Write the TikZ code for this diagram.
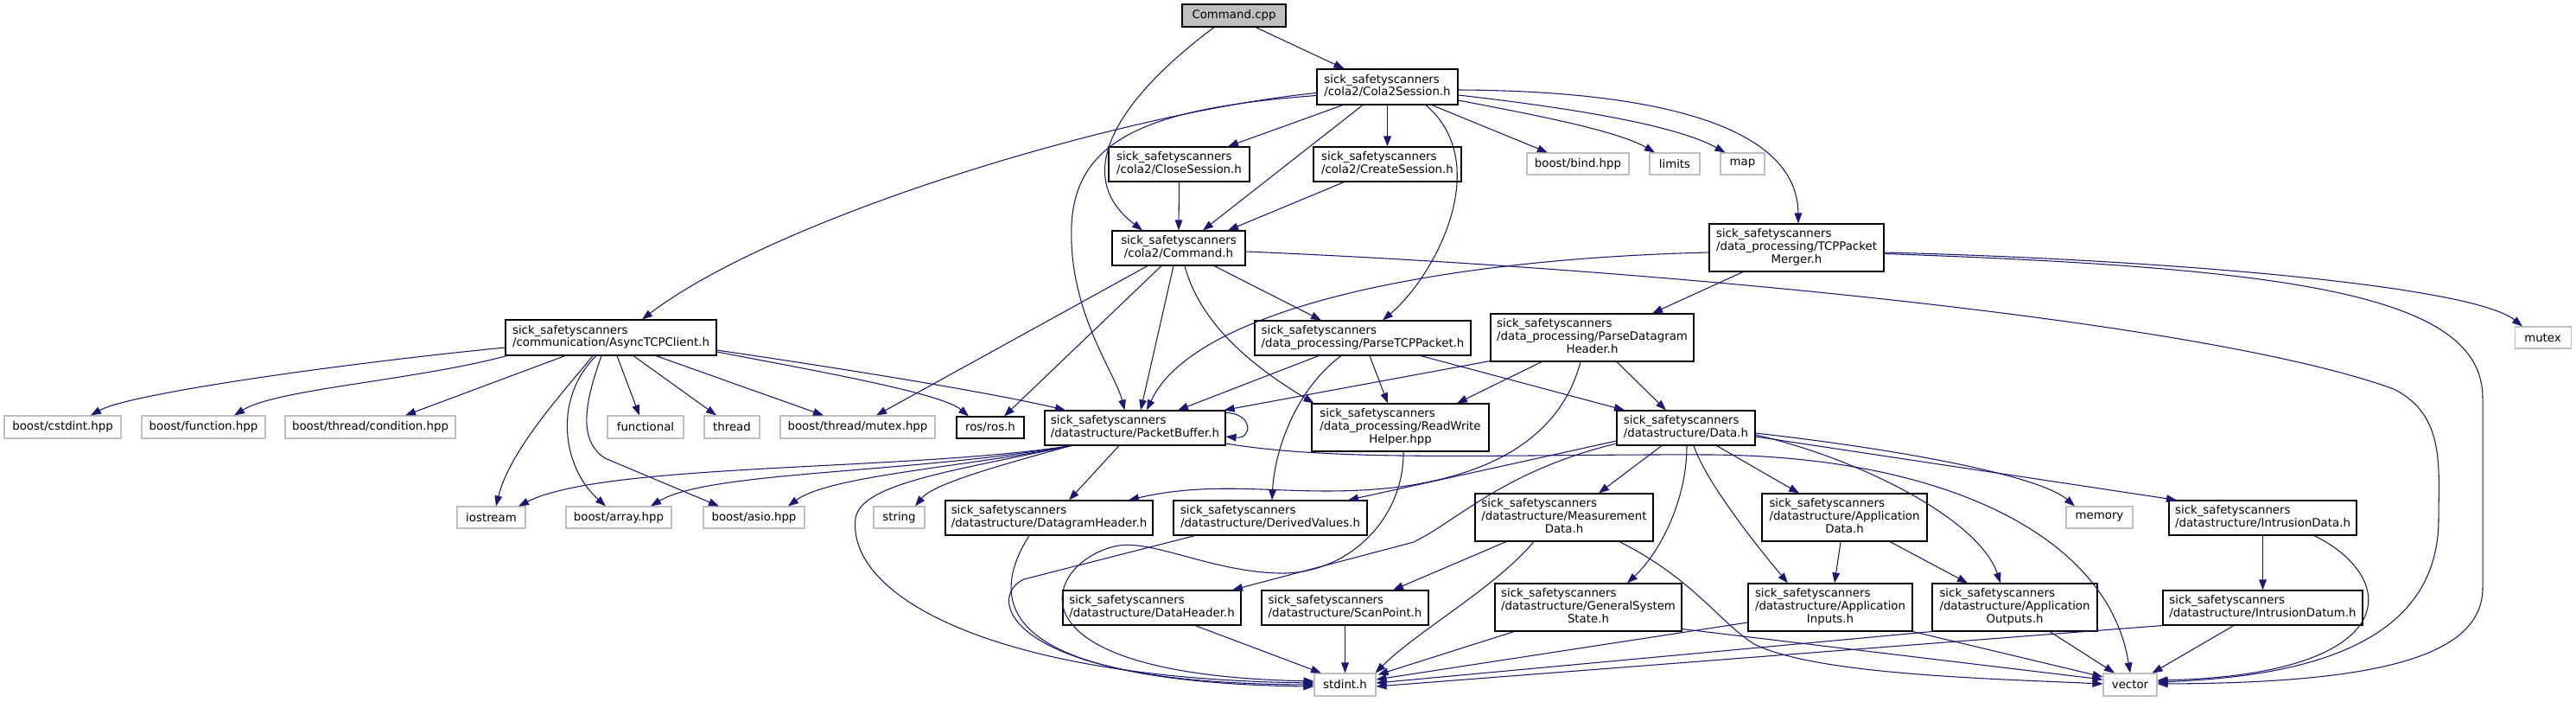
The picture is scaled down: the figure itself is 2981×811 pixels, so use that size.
\documentclass[tikz,border=0pt]{standalone}
\usepackage{fontspec}
\setmainfont{DejaVu Sans}
\usetikzlibrary{arrows.meta,calc}
\definecolor{edgecol}{HTML}{191970}
\definecolor{extgray}{HTML}{BFBFBF}
\definecolor{rootfill}{HTML}{BFBFBF}
\newcommand{\lbltwo}[2]{\begin{tabular}{@{}l@{}}#1\\\multicolumn{1}{@{}c@{}}{#2}\end{tabular}}
\newcommand{\lblthree}[3]{\begin{tabular}{@{}l@{}}#1\\#2\\\multicolumn{1}{@{}c@{}}{#3}\end{tabular}}
\newcommand{\sss}{sick\_safetyscanners}
\tikzset{
  doc/.style={draw=black, fill=white, line width=0.8pt, inner sep=0pt, font=\fontsize{10}{11}\selectfont},
  ext/.style={doc, draw=extgray},
  sz/.style 2 args={minimum width={#1*0.75pt}, minimum height={#2*0.75pt}},
  edge/.style={draw=edgecol, line width=0.8pt, -{Triangle[length=9pt,width=6.5pt]}}
}
\begin{document}
\begin{tikzpicture}[x=0.75pt,y=-0.75pt]
\useasboundingbox (0,0) rectangle (2981,811);
\fill[white] (0,0) rectangle (2981,811);
% nodes
\node[doc, fill=rootfill, sz={120}{26}] (cpp) at (1428,18) {Command.cpp};
\node[doc, sz={163}{41}] (c2s) at (1605.5,100.5) {\lbltwo{\sss}{/cola2/Cola2Session.h}};
\node[doc, sz={163}{40}] (close) at (1364.5,190) {\lbltwo{\sss}{/cola2/CloseSession.h}};
\node[doc, sz={171}{40}] (create) at (1605.5,190) {\lbltwo{\sss}{/cola2/CreateSession.h}};
\node[ext, sz={118}{25}] (bind) at (1826,189.5) {boost/bind.hpp};
\node[ext, sz={58}{25}] (limits) at (1938,189.5) {limits};
\node[ext, sz={51}{25}] (map) at (2016.5,189.5) {map};
\node[doc, sz={154}{40}] (cmdh) at (1364,287) {\lbltwo{\sss}{/cola2/Command.h}};
\node[doc, sz={202}{55}] (merger) at (2079,286.5) {\lblthree{\sss}{/data\_processing/TCPPacket}{Merger.h}};
\node[doc, sz={250}{40}] (ptcp) at (1577,391) {\lbltwo{\sss}{/data\_processing/ParseTCPPacket.h}};
\node[doc, sz={235}{55}] (pdg) at (1842.5,390.5) {\lblthree{\sss}{/data\_processing/ParseDatagram}{Header.h}};
\node[ext, sz={65}{25}] (mutex) at (2942.5,390.5) {mutex};
\node[doc, sz={244}{41}] (async) at (707,390.5) {\lbltwo{\sss}{/communication/AsyncTCPClient.h}};
\node[ext, sz={135}{26}] (cstdint) at (72.5,494) {boost/cstdint.hpp};
\node[ext, sz={143}{26}] (function) at (235.5,494) {boost/function.hpp};
\node[ext, sz={197}{26}] (condition) at (428.5,494) {boost/thread/condition.hpp};
\node[ext, sz={88}{26}] (functional) at (747,494) {functional};
\node[ext, sz={64}{26}] (thread) at (847,494) {thread};
\node[ext, sz={179}{26}] (tmutex) at (992.5,494) {boost/thread/mutex.hpp};
\node[doc, sz={78}{25}] (ros) at (1146,494.5) {ros/ros.h};
\node[doc, sz={209}{40}] (pb) at (1313.5,495) {\lbltwo{\sss}{/datastructure/PacketBuffer.h}};
\node[doc, sz={205}{55}] (rwh) at (1620.5,494.5) {\lblthree{\sss}{/data\_processing/ReadWrite}{Helper.hpp}};
\node[doc, sz={160}{40}] (data) at (1951,495) {\lbltwo{\sss}{/datastructure/Data.h}};
\node[ext, sz={79}{25}] (iostream) at (568.5,598.5) {iostream};
\node[ext, sz={122}{25}] (array) at (716,598.5) {boost/array.hpp};
\node[ext, sz={117}{25}] (asio) at (872.5,598.5) {boost/asio.hpp};
\node[ext, sz={59}{25}] (string) at (1040.5,598.5) {string};
\node[doc, sz={240}{40}] (dgh) at (1214,599) {\lbltwo{\sss}{/datastructure/DatagramHeader.h}};
\node[doc, sz={224}{40}] (dv) at (1470,599) {\lbltwo{\sss}{/datastructure/DerivedValues.h}};
\node[doc, sz={206}{55}] (meas) at (1810,598.5) {\lblthree{\sss}{/datastructure/Measurement}{Data.h}};
\node[doc, sz={191}{55}] (appdata) at (2134.5,598.5) {\lblthree{\sss}{/datastructure/Application}{Data.h}};
\node[ext, sz={77}{25}] (memory) at (2429.5,598.5) {memory};
\node[doc, sz={217}{40}] (intr) at (2618.5,599) {\lbltwo{\sss}{/datastructure/IntrusionData.h}};
\node[doc, sz={206}{40}] (dh) at (1333,703) {\lbltwo{\sss}{/datastructure/DataHeader.h}};
\node[doc, sz={193}{40}] (scan) at (1556.5,703) {\lbltwo{\sss}{/datastructure/ScanPoint.h}};
\node[doc, sz={216}{55}] (gss) at (1838,702.5) {\lblthree{\sss}{/datastructure/GeneralSystem}{State.h}};
\node[doc, sz={190}{55}] (appin) at (2118,702.5) {\lblthree{\sss}{/datastructure/Application}{Inputs.h}};
\node[doc, sz={191}{55}] (appout) at (2331.5,702.5) {\lblthree{\sss}{/datastructure/Application}{Outputs.h}};
\node[doc, sz={231}{40}] (intrd) at (2618.5,703) {\lbltwo{\sss}{/datastructure/IntrusionDatum.h}};
\node[ext, sz={71}{26}] (stdint) at (1556.5,792) {stdint.h};
\node[ext, sz={62}{26}] (vector) at (2465,792) {vector};
% edges
\draw[edge] ($(cpp.south)+(25,0)$) -- ($(c2s.north)+(-50,0)$);
\draw[edge] ($(cpp.south)+(-23,0)$) .. controls (1300,110) and (1235,200) .. ($(cmdh.north)+(-42,0)$);
\draw[edge] ($(c2s.west)+(0,7)$) .. controls (1300,130) and (900,250) .. ($(async.north)+(36,0)$);
\draw[edge] ($(c2s.south)+(-51.5,0)$) -- ($(close.north)+(56.5,0)$);
\draw[edge] (c2s.south) -- (create.north);
\draw[edge] ($(c2s.south)+(-28.5,0)$) -- ($(cmdh.north)+(28,0)$);
\draw[edge] ($(c2s.west)+(0,10)$) .. controls (1330,125) and (1245,160) .. (1240,260) .. controls (1236,360) and (1290,430) .. ($(pb.north)+(-12,0)$);
\draw[edge] ($(c2s.south)+(44.5,0)$) .. controls (1730,190) and (1660,320) .. ($(ptcp.north)+(23,0)$);
\draw[edge] ($(c2s.south)+(51.5,0)$) -- ($(bind.north)+(-35,0)$);
\draw[edge] ($(c2s.east)+(0,15.5)$) .. controls (1760,130) and (1870,150) .. ($(limits.north)+(-23,0)$);
\draw[edge] ($(c2s.east)+(0,9.5)$) .. controls (1820,125) and (1940,145) .. ($(map.north)+(-20,0)$);
\draw[edge] ($(c2s.east)+(0,3.5)$) .. controls (1900,105) and (2080,140) .. ($(merger.north)+(2,0)$);
\draw[edge] (close.south) -- (cmdh.north);
\draw[edge] ($(create.south)+(-50,0)$) -- ($(cmdh.north)+(57,0)$);
\draw[edge] ($(cmdh.south)+(-36,0)$) -- ($(tmutex.north)+(21.5,0)$);
\draw[edge] ($(cmdh.south)+(-20,0)$) -- ($(ros.north)+(16,0)$);
\draw[edge] ($(cmdh.south)+(-6,0)$) -- ($(pb.north)+(6.5,0)$);
\draw[edge] ($(cmdh.south)+(7,0)$) .. controls (1390,380) and (1460,430) .. ($(rwh.north west)+(3,0)$);
\draw[edge] ($(cmdh.south)+(41,0)$) -- ($(ptcp.north)+(-48,0)$);
\draw[edge] ($(cmdh.east)+(0,4)$) .. controls (1900,310) and (2550,370) .. (2770,450) .. controls (2830,480) and (2822,540) .. (2822,600) .. controls (2822,740) and (2680,782) .. ($(vector.east)+(0,-3)$);
\draw[edge] ($(merger.south)+(-62,0)$) -- ($(pdg.north)+(69.5,0)$);
\draw[edge] ($(merger.west)+(0,5.5)$) .. controls (1650,300) and (1380,360) .. ($(pb.north)+(13.5,0)$);
\draw[edge] ($(merger.east)+(0,5.5)$) .. controls (2500,300) and (2860,330) .. ($(mutex.north)+(-23.5,0)$);
\draw[edge] ($(merger.east)+(0,7)$) .. controls (2650,310) and (2873,340) .. (2873,460) -- (2873,680) .. controls (2873,760) and (2750,790) .. ($(vector.east)+(0,-1)$);
\draw[edge] ($(async.west)+(0,11.5)$) .. controls (400,420) and (150,455) .. ($(cstdint.north)+(32.5,0)$);
\draw[edge] ($(async.south west)+(2,0)$) .. controls (480,440) and (320,450) .. ($(function.north)+(35.5,0)$);
\draw[edge] ($(async.south)+(-53,0)$) -- ($(condition.north)+(40.5,0)$);
\draw[edge] ($(async.south)+(-21,0)$) .. controls (655,450) and (590,520) .. ($(iostream.north)+(5.5,0)$);
\draw[edge] ($(async.south)+(-17,0)$) .. controls (640,460) and (650,540) .. ($(array.north)+(-15,0)$);
\draw[edge] ($(async.south)+(-11,0)$) .. controls (675,470) and (670,510) .. (700,530) -- ($(asio.north)+(-40.5,0)$);
\draw[edge] ($(async.south)+(7,0)$) -- ($(functional.north)+(-7,0)$);
\draw[edge] ($(async.south)+(26,0)$) -- ($(thread.north)+(-18,0)$);
\draw[edge] ($(async.south)+(52,0)$) -- ($(tmutex.north)+(-39.5,0)$);
\draw[edge] ($(async.east)+(0,16.5)$) .. controls (950,430) and (1090,455) .. ($(ros.north)+(-25,0)$);
\draw[edge] ($(async.east)+(0,14.5)$) .. controls (1000,430) and (1150,455) .. ($(pb.north)+(-80.5,0)$);
\draw[edge] ($(pb.north east)+(0,3)$) .. controls (1450,478) and (1450,508) .. ($(pb.east)+(0,10)$);
\draw[edge] ($(pb.south west)+(31,0)$) .. controls (1050,545) and (700,535) .. ($(iostream.north)+(31.5,0)$);
\draw[edge] ($(pb.south west)+(31,0)$) .. controls (1050,548) and (820,545) .. ($(array.north)+(37,0)$);
\draw[edge] ($(pb.south west)+(31,0)$) .. controls (1120,540) and (960,550) .. ($(asio.north)+(39.5,0)$);
\draw[edge] ($(pb.south west)+(31,0)$) .. controls (1150,540) and (1080,560) .. ($(string.north)+(18.5,0)$);
\draw[edge] ($(pb.south west)+(31,0)$) .. controls (1100,545) and (995,560) .. (990,600) .. controls (980,690) and (1150,785) .. ($(stdint.west)+(0,-2)$);
\draw[edge] ($(pb.south)+(-18.5,0)$) -- ($(dgh.north)+(23,0)$);
\draw[edge] ($(pb.east)+(0,18)$) .. controls (1550,535) and (1750,525) .. (1980,526) .. controls (2250,528) and (2440,620) .. (vector.north);
\draw[edge] ($(ptcp.south)+(-51,0)$) -- ($(pb.north)+(49.5,0)$);
\draw[edge] ($(ptcp.south)+(-25,0)$) .. controls (1500,450) and (1475,520) .. ($(dv.north)+(2,0)$);
\draw[edge] ($(ptcp.south)+(8,0)$) -- ($(rwh.north)+(-14.5,0)$);
\draw[edge] ($(ptcp.south)+(67,0)$) -- ($(data.north)+(-71,0)$);
\draw[edge] ($(pdg.south west)+(0,-1)$) -- ($(pb.north east)+(-2,0)$);
\draw[edge] ($(pdg.south)+(-58.5,0)$) -- ($(rwh.north)+(65.5,0)$);
\draw[edge] ($(pdg.south)+(-13.5,0)$) .. controls (1810,490) and (1750,545) .. (1621,563) .. controls (1500,578) and (1420,552) .. ($(dgh.north)+(92,0)$);
\draw[edge] ($(pdg.south)+(28.5,0)$) -- ($(data.north)+(-23,0)$);
\draw[edge] ($(data.west)+(0,15)$) -- ($(dv.north)+(90,0)$);
\draw[edge] ($(data.west)+(0,18)$) .. controls (1740,545) and (1690,600) .. (1636,627) -- ($(dh.north)+(93,0)$);
\draw[edge] ($(data.south)+(-28,0)$) -- ($(meas.north)+(40,0)$);
\draw[edge] ($(data.south)+(1,0)$) .. controls (1952,580) and (1920,640) .. ($(gss.north)+(45,0)$);
\draw[edge] ($(data.south)+(9,0)$) .. controls (1975,560) and (2040,640) .. ($(appin.north)+(-49,0)$);
\draw[edge] ($(data.south east)+(-45,0)$) -- ($(appdata.north)+(-52.5,0)$);
\draw[edge] ($(data.east)+(0,8)$) .. controls (2150,530) and (2290,600) .. ($(appout.north)+(-16.5,0)$);
\draw[edge] ($(data.east)+(0,6)$) .. controls (2200,520) and (2360,550) .. ($(memory.north)+(-28.5,0)$);
\draw[edge] ($(data.east)+(0,10)$) -- ($(intr.north)+(-99.5,0)$);
\draw[edge] ($(meas.south)+(-67,0)$) -- ($(scan.north)+(55.5,0)$);
\draw[edge] ($(meas.south)+(-35,0)$) .. controls (1730,680) and (1640,730) .. ($(stdint.north east)+(-1,0)$);
\draw[edge] ($(meas.south)+(64,0)$) .. controls (1960,670) and (1990,720) .. (2030,745) .. controls (2100,780) and (2300,785) .. ($(vector.west)+(0,-1)$);
\draw[edge] ($(gss.south)+(-86,0)$) -- ($(stdint.north east)+(2,2)$);
\draw[edge] ($(gss.south east)+(0,-3)$) -- ($(vector.west)+(0,-6)$);
\draw[edge] ($(appdata.south)+(-4.5,0)$) -- ($(appin.north)+(5,0)$);
\draw[edge] ($(appdata.south)+(52.5,0)$) -- ($(appout.north)+(-54.5,0)$);
\draw[edge] ($(appin.west)+(0,17.5)$) -- ($(stdint.east)+(0,-6)$);
\draw[edge] (appin.south east) -- ($(vector.west)+(0,-9)$);
\draw[edge] (appout.south west) -- ($(stdint.east)+(0,-2)$);
\draw[edge] ($(appout.south)+(40.5,0)$) -- ($(vector.north)+(-18,0)$);
\draw[edge] (intr.south) -- (intrd.north);
\draw[edge] ($(intr.south)+(59.5,0)$) .. controls (2780,670) and (2780,780) .. ($(vector.east)+(0,-5)$);
\draw[edge] (intrd.south west) -- ($(stdint.east)+(0,2)$);
\draw[edge] ($(intrd.south)+(-33.5,0)$) -- ($(vector.north east)+(-6,0)$);
\draw[edge] ($(rwh.south)+(3.5,0)$) .. controls (1625,600) and (1560,665) .. (1480,663) .. controls (1400,661) and (1330,622) .. (1290,632) .. controls (1210,650) and (1150,780) .. ($(stdint.west)+(0,-4)$);
\draw[edge] ($(dgh.south)+(-23,0)$) .. controls (1140,700) and (1160,790) .. (stdint.west);
\draw[edge] ($(dv.south)+(-87,0)$) -- (1185,670) .. controls (1140,690) and (1160,790) .. ($(stdint.west)+(0,2)$);
\draw[edge] ($(dh.south)+(50,0)$) -- ($(stdint.north)+(-27.5,0)$);
\draw[edge] (scan.south) -- (stdint.north);
\end{tikzpicture}
\end{document}
